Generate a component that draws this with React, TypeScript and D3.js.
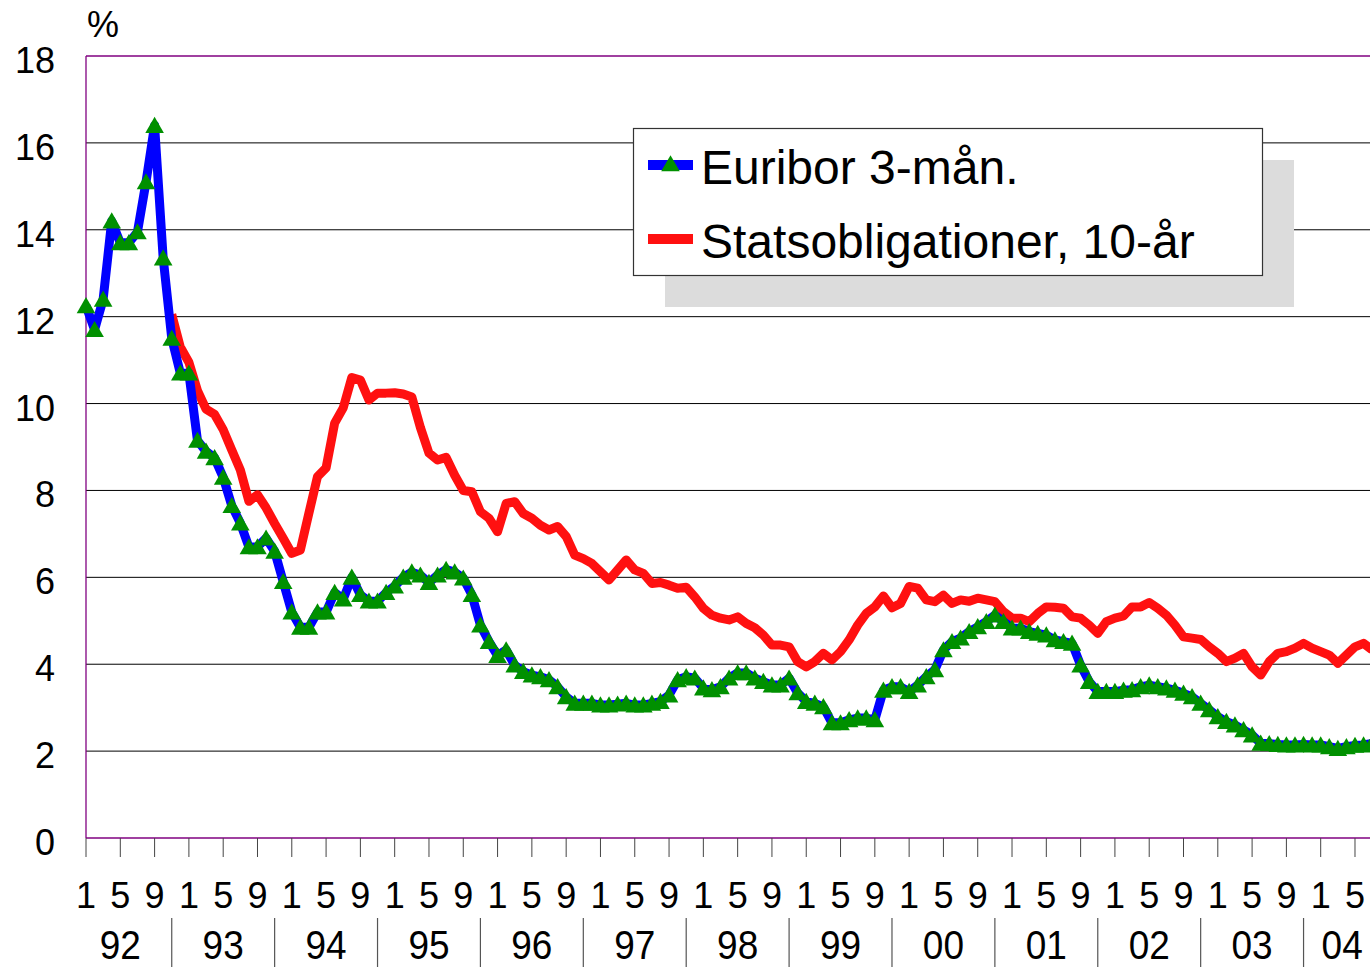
import { useRef, useEffect } from 'react';
import * as d3 from 'd3';

// monthly values, Jan 1992 .. Jul 2004
const euribor: number[] = [
  12.25, 11.7, 12.4, 14.2, 13.7, 13.7, 13.95, 15.1, 16.4, 13.35, 11.5, 10.7, // 92
  10.7, 9.15, 8.9, 8.75, 8.3, 7.65, 7.25, 6.7, 6.7, 6.9, 6.6, 5.9, // 93
  5.2, 4.85, 4.85, 5.2, 5.2, 5.65, 5.5, 6.0, 5.6, 5.45, 5.45, 5.65, // 94
  5.8, 6.0, 6.12, 6.05, 5.88, 6.05, 6.18, 6.12, 5.98, 5.6, 4.9, 4.52, // 95
  4.2, 4.33, 3.98, 3.83, 3.75, 3.71, 3.64, 3.48, 3.25, 3.1, 3.1, 3.1, // 96
  3.06, 3.06, 3.08, 3.1, 3.06, 3.06, 3.1, 3.14, 3.29, 3.64, 3.71, 3.68, // 97
  3.45, 3.41, 3.48, 3.68, 3.8, 3.8, 3.68, 3.6, 3.52, 3.52, 3.68, 3.34, // 98
  3.14, 3.1, 3.02, 2.65, 2.65, 2.72, 2.76, 2.76, 2.72, 3.4, 3.48, 3.48, // 99
  3.37, 3.52, 3.71, 3.87, 4.33, 4.52, 4.6, 4.75, 4.86, 4.98, 5.13, 4.98, // 00
  4.83, 4.83, 4.75, 4.71, 4.67, 4.56, 4.52, 4.48, 3.98, 3.6, 3.37, 3.37, // 01
  3.37, 3.4, 3.41, 3.48, 3.52, 3.48, 3.45, 3.4, 3.33, 3.25, 3.1, 2.95, // 02
  2.79, 2.68, 2.6, 2.49, 2.37, 2.18, 2.17, 2.15, 2.14, 2.14, 2.15, 2.14, // 03
  2.14, 2.1, 2.06, 2.1, 2.13, 2.14, 2.18, // 04
];

const statsobl: (number | null)[] = [
  null, null, null, null, null, null, null, null, null, null, 12.05, 11.3, // 92
  10.95, 10.3, 9.87, 9.75, 9.4, 8.93, 8.47, 7.75, 7.9, 7.6, 7.24, 6.9, // 93
  6.55, 6.63, 7.48, 8.32, 8.52, 9.55, 9.9, 10.6, 10.54, 10.08, 10.24, 10.24, // 94
  10.25, 10.22, 10.15, 9.45, 8.86, 8.7, 8.76, 8.35, 8.0, 7.97, 7.51, 7.36, // 95
  7.05, 7.7, 7.74, 7.47, 7.36, 7.2, 7.09, 7.17, 6.94, 6.51, 6.43, 6.32, // 96
  6.13, 5.94, 6.17, 6.4, 6.17, 6.09, 5.86, 5.88, 5.82, 5.75, 5.77, 5.55, // 97
  5.29, 5.13, 5.06, 5.02, 5.09, 4.94, 4.84, 4.67, 4.44, 4.44, 4.4, 4.06, // 98
  3.94, 4.06, 4.25, 4.1, 4.29, 4.56, 4.9, 5.17, 5.32, 5.57, 5.3, 5.4, // 99
  5.79, 5.75, 5.48, 5.44, 5.59, 5.4, 5.48, 5.45, 5.52, 5.48, 5.44, 5.21, // 00
  5.06, 5.06, 4.98, 5.17, 5.32, 5.31, 5.29, 5.09, 5.06, 4.9, 4.71, 4.98, // 01
  5.06, 5.11, 5.32, 5.32, 5.42, 5.29, 5.13, 4.9, 4.63, 4.6, 4.57, 4.4, // 02
  4.25, 4.06, 4.14, 4.25, 3.94, 3.75, 4.06, 4.25, 4.29, 4.37, 4.48, 4.37, // 03
  4.29, 4.21, 4.02, 4.21, 4.4, 4.48, 4.33, // 04
];

const years = ['92', '93', '94', '95', '96', '97', '98', '99', '00', '01', '02', '03', '04'];
const monthTickLabels = ['1', '5', '9'];
const yTicks = [0, 2, 4, 6, 8, 10, 12, 14, 16, 18];
const seriesNames = ['Euribor 3-mån.', 'Statsobligationer, 10-år'];

const W = 1370;
const H = 967;
const FONT = '"Liberation Sans", Arial, Helvetica, sans-serif';
const BLUE = '#0000ff';
const RED = '#ff1010';
const GREEN = '#009000';
const PURPLE = '#800080';

export default function App() {
  const svgRef = useRef<SVGSVGElement>(null);

  useEffect(() => {
    if (!svgRef.current) return;
    const svg = d3.select(svgRef.current);
    svg.selectAll('*').remove();

    const x = d3.scaleLinear().domain([0, 144]).range([86, 1320.7]);
    const y = d3.scaleLinear().domain([0, 18]).range([838, 56]);
    const n = euribor.length;
    const left = x(0);
    const right = W;

    // gridlines
    svg
      .append('g')
      .selectAll('line')
      .data(yTicks.filter((t) => t > 0 && t < 18))
      .join('line')
      .attr('x1', left)
      .attr('x2', right)
      .attr('y1', (d) => y(d))
      .attr('y2', (d) => y(d))
      .attr('stroke', '#000')
      .attr('stroke-width', 1);

    // plot border (purple)
    const border = svg.append('g').attr('stroke', PURPLE).attr('stroke-width', 1.3).attr('fill', 'none');
    border.append('line').attr('x1', left).attr('x2', right).attr('y1', y(18)).attr('y2', y(18));
    border.append('line').attr('x1', left).attr('x2', right).attr('y1', y(0)).attr('y2', y(0));
    border.append('line').attr('x1', left).attr('x2', left).attr('y1', y(18)).attr('y2', y(0));

    // y labels
    svg
      .append('g')
      .selectAll('text')
      .data(yTicks)
      .join('text')
      .attr('x', 55)
      .attr('y', (d) => y(d) + 17)
      .attr('text-anchor', 'end')
      .attr('font-family', FONT)
      .attr('font-size', 36)
      .attr('fill', '#000')
      .text((d) => d);

    svg
      .append('text')
      .attr('x', 87)
      .attr('y', 37)
      .attr('font-family', FONT)
      .attr('font-size', 36)
      .text('%');

    // x ticks every 4 months
    const tickIdx = d3.range(0, n, 4);
    svg
      .append('g')
      .selectAll('line')
      .data(tickIdx)
      .join('line')
      .attr('x1', (d) => x(d))
      .attr('x2', (d) => x(d))
      .attr('y1', y(0))
      .attr('y2', y(0) + 19)
      .attr('stroke', '#444')
      .attr('stroke-width', 1);

    svg
      .append('g')
      .selectAll('text')
      .data(tickIdx)
      .join('text')
      .attr('x', (d) => x(d))
      .attr('y', 908)
      .attr('text-anchor', 'middle')
      .attr('font-family', FONT)
      .attr('font-size', 36)
      .text((d) => monthTickLabels[(d % 12) / 4]);

    // year group separators and labels
    svg
      .append('g')
      .selectAll('line')
      .data(years.slice(1))
      .join('line')
      .attr('x1', (_, i) => x(12 * (i + 1) - 2))
      .attr('x2', (_, i) => x(12 * (i + 1) - 2))
      .attr('y1', 918)
      .attr('y2', H)
      .attr('stroke', '#555')
      .attr('stroke-width', 1.2);

    svg
      .append('g')
      .selectAll('text')
      .data(years)
      .join('text')
      .attr('transform', (_, i) => {
        const a = 12 * i - 2;
        const b = Math.min(12 * i + 10, n);
        return `translate(${x((a + b) / 2)},959) scale(1,1.1)`;
      })
      .attr('text-anchor', 'middle')
      .attr('font-family', FONT)
      .attr('font-size', 37)
      .text((d) => d);

    // series
    const pts = euribor.map((v, i) => [i, v] as [number, number]);
    const bondPts = statsobl.map((v, i) => [i, v] as [number, number | null]);

    svg
      .append('path')
      .datum(bondPts)
      .attr('fill', 'none')
      .attr('stroke', RED)
      .attr('stroke-width', 9)
      .attr('stroke-linejoin', 'round')
      .attr(
        'd',
        d3
          .line<[number, number | null]>()
          .defined((d) => d[1] != null)
          .x((d) => x(d[0]))
          .y((d) => y(d[1] as number))
      );

    svg
      .append('path')
      .datum(pts)
      .attr('fill', 'none')
      .attr('stroke', BLUE)
      .attr('stroke-width', 9)
      .attr('stroke-linejoin', 'round')
      .attr(
        'd',
        d3
          .line<[number, number]>()
          .x((d) => x(d[0]))
          .y((d) => y(d[1]))
      );

    const tri = d3.symbol(d3.symbolTriangle, 150)();
    svg
      .append('g')
      .selectAll('path')
      .data(pts)
      .join('path')
      .attr('d', tri)
      .attr('transform', (d) => `translate(${x(d[0])},${y(d[1]) + 2})`)
      .attr('fill', GREEN);

    // legend
    const lg = svg.append('g');
    lg.append('rect').attr('x', 665).attr('y', 160).attr('width', 629).attr('height', 147).attr('fill', '#dcdcdc');
    lg.append('rect')
      .attr('x', 633.5)
      .attr('y', 128.5)
      .attr('width', 629)
      .attr('height', 147)
      .attr('fill', '#fff')
      .attr('stroke', '#333')
      .attr('stroke-width', 1.2);

    const rows = [
      { name: seriesNames[0], color: BLUE, marker: true, cy: 165 },
      { name: seriesNames[1], color: RED, marker: false, cy: 239 },
    ];
    rows.forEach((r) => {
      lg.append('line')
        .attr('x1', 648)
        .attr('x2', 693)
        .attr('y1', r.cy)
        .attr('y2', r.cy)
        .attr('stroke', r.color)
        .attr('stroke-width', 10);
      if (r.marker) {
        lg.append('path').attr('d', tri).attr('transform', `translate(670.5,${r.cy + 1})`).attr('fill', GREEN);
      }
      lg.append('text')
        .attr('x', 701)
        .attr('y', r.cy + 19)
        .attr('font-family', FONT)
        .attr('font-size', 48)
        .text(r.name);
    });
  }, []);

  return (
    <svg
      ref={svgRef}
      width={W}
      height={H}
      style={{ position: 'absolute', left: 0, top: 0, background: '#fff' }}
    />
  );
}
